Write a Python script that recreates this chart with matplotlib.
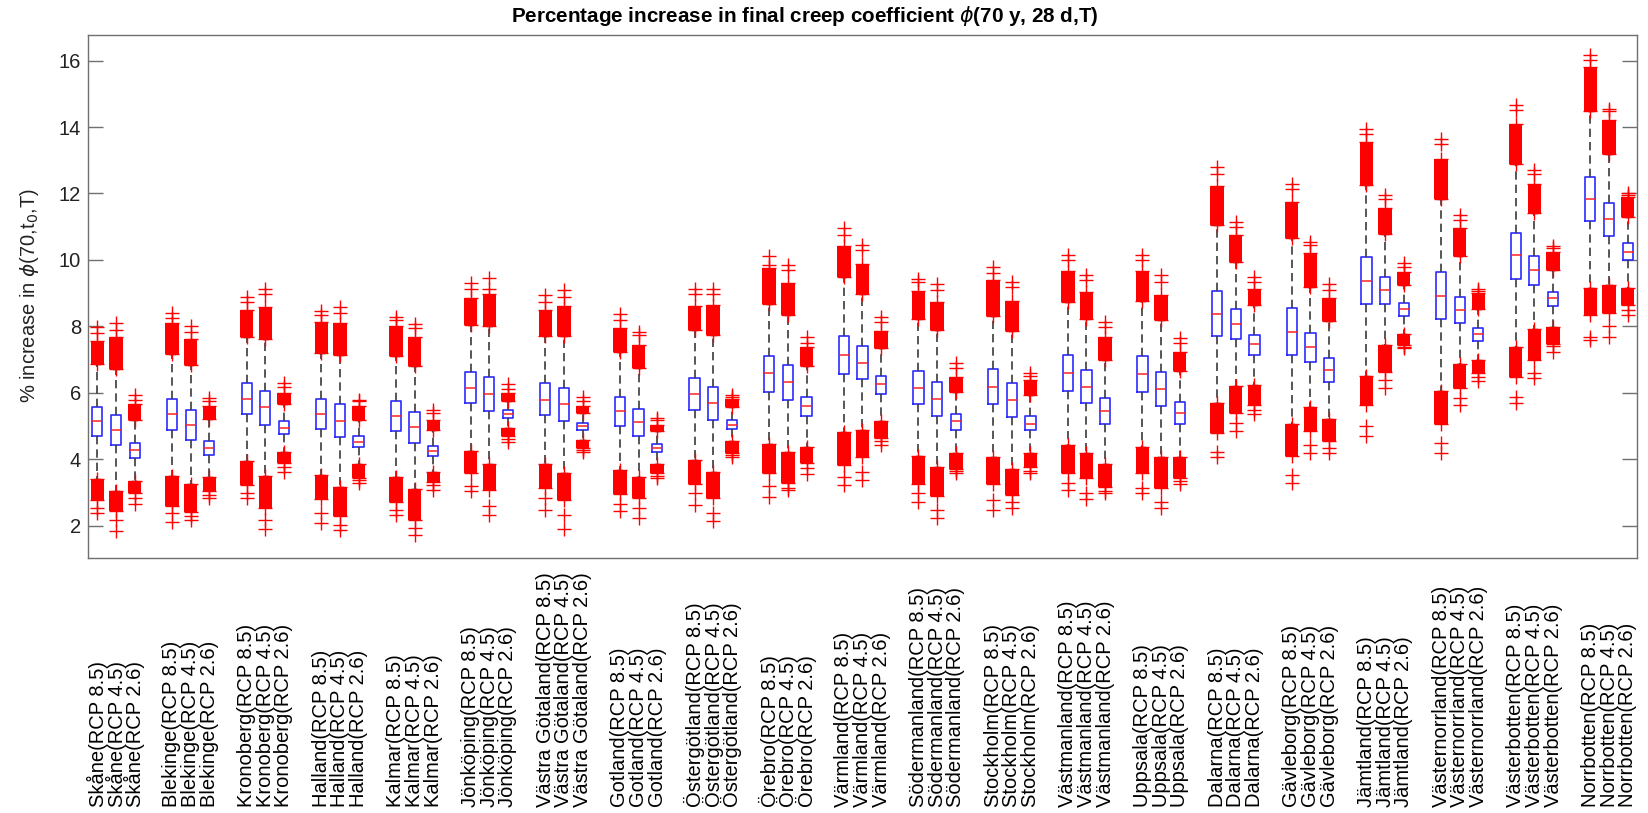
import matplotlib
matplotlib.use('Agg')
import matplotlib.pyplot as plt
import numpy as np

plt.rcParams['font.family'] = ['Liberation Sans', 'DejaVu Sans']

regions = ['Skåne', 'Blekinge', 'Kronoberg', 'Halland', 'Kalmar', 'Jönköping',
           'Västra Götaland', 'Gotland', 'Östergötland', 'Örebro', 'Värmland',
           'Södermanland', 'Stockholm', 'Västmanland', 'Uppsala', 'Dalarna',
           'Gävleborg', 'Jämtland', 'Västernorrland', 'Västerbotten', 'Norrbotten']
scenarios = ['RCP 8.5', 'RCP 4.5', 'RCP 2.6']

# per box (region x scenario): median, quartiles, whisker ends
med = [5.16, 4.89, 4.28, 5.36, 5.04, 4.35, 5.83, 5.56, 4.94, 5.37, 5.16, 4.52,
       5.29, 4.97, 4.25, 6.16, 5.96, 5.36, 5.79, 5.66, 4.99, 5.46, 5.13, 4.35,
       5.96, 5.69, 5.04, 6.59, 6.32, 5.59, 7.14, 6.91, 6.26, 6.16, 5.83, 5.14,
       6.19, 5.79, 5.07, 6.61, 6.19, 5.46, 6.57, 6.12, 5.39, 8.37, 8.06, 7.46,
       7.84, 7.39, 6.69, 9.37, 9.09, 8.51, 8.92, 8.49, 7.77, 10.15, 9.70, 8.84,
       11.83, 11.22, 10.24]
q1 = [4.71, 4.44, 4.05, 4.89, 4.59, 4.13, 5.37, 5.03, 4.77, 4.91, 4.67, 4.36,
      4.84, 4.50, 4.10, 5.68, 5.44, 5.24, 5.33, 5.14, 4.87, 5.01, 4.71, 4.22,
      5.49, 5.17, 4.91, 6.04, 5.79, 5.29, 6.57, 6.41, 5.97, 5.65, 5.31, 4.89,
      5.67, 5.27, 4.87, 6.07, 5.69, 5.06, 6.04, 5.61, 5.06, 7.71, 7.61, 7.14,
      7.14, 6.94, 6.34, 8.66, 8.67, 8.31, 8.21, 8.09, 7.56, 9.44, 9.24, 8.62,
      11.17, 10.73, 10.00]
q3 = [5.57, 5.34, 4.50, 5.81, 5.49, 4.56, 6.31, 6.07, 5.14, 5.81, 5.66, 4.69,
      5.74, 5.43, 4.40, 6.63, 6.47, 5.47, 6.29, 6.16, 5.09, 5.89, 5.51, 4.46,
      6.44, 6.19, 5.17, 7.11, 6.84, 5.89, 7.71, 7.42, 6.52, 6.67, 6.34, 5.37,
      6.71, 6.31, 5.29, 7.14, 6.69, 5.84, 7.12, 6.63, 5.71, 9.06, 8.51, 7.74,
      8.54, 7.81, 7.06, 10.10, 9.49, 8.69, 9.65, 8.89, 7.94, 10.82, 10.12, 9.04,
      12.50, 11.70, 10.50]
whis_hi = [6.87, 6.71, 5.17, 7.17, 6.84, 5.22, 7.69, 7.63, 5.67, 7.19, 7.14, 5.19,
           7.12, 6.82, 4.89, 8.04, 8.01, 5.77, 7.71, 7.71, 5.39, 7.24, 6.74, 4.86,
           7.89, 7.74, 5.57, 8.67, 8.34, 6.82, 9.48, 8.98, 7.34, 8.21, 7.89, 6.04,
           8.31, 7.87, 5.94, 8.74, 8.21, 6.99, 8.77, 8.19, 6.67, 11.05, 9.95, 8.64,
           10.65, 9.19, 8.17, 12.25, 10.77, 9.24, 11.82, 10.12, 8.51, 12.90, 11.42, 9.70,
           14.49, 13.18, 11.30]
whis_lo = [3.40, 3.06, 3.36, 3.50, 3.25, 3.48, 3.96, 3.50, 4.23, 3.52, 3.16, 3.86,
           3.46, 3.12, 3.63, 4.25, 3.86, 4.94, 3.86, 3.58, 4.57, 3.68, 3.48, 3.86,
           3.98, 3.63, 4.54, 4.46, 4.23, 4.36, 4.82, 4.89, 5.14, 4.10, 3.76, 4.18,
           4.06, 3.70, 4.18, 4.43, 4.18, 3.86, 4.36, 4.06, 4.06, 5.69, 6.21, 6.24,
           5.06, 5.57, 5.21, 6.51, 7.44, 7.77, 6.07, 6.87, 6.99, 7.37, 7.91, 7.99,
           9.17, 9.24, 9.17]
# dense outlier clusters: upper cluster top, lower cluster bottom
up_top = [7.57, 7.67, 5.67, 8.09, 7.61, 5.61, 8.49, 8.59, 6.01, 8.14, 8.09, 5.61,
          8.01, 7.69, 5.19, 8.85, 8.98, 5.99, 8.49, 8.61, 5.61, 7.94, 7.44, 5.02,
          8.61, 8.63, 5.81, 9.75, 9.31, 7.39, 10.42, 9.88, 7.87, 9.08, 8.74, 6.49,
          9.39, 8.77, 6.39, 9.68, 9.04, 7.69, 9.68, 8.94, 7.24, 12.22, 10.75, 9.14,
          11.75, 10.20, 8.84, 13.55, 11.55, 9.65, 13.05, 10.95, 9.01, 14.10, 12.30, 10.25,
          15.81, 14.20, 11.90]
low_bot = [2.78, 2.43, 3.00, 2.60, 2.40, 3.06, 3.22, 2.53, 3.88, 2.80, 2.28, 3.45,
           2.73, 2.18, 3.33, 3.58, 3.08, 4.69, 3.13, 2.78, 4.33, 2.96, 2.83, 3.58,
           3.26, 2.83, 4.20, 3.60, 3.30, 3.88, 3.83, 4.07, 4.64, 3.26, 2.90, 3.70,
           3.26, 2.93, 3.76, 3.60, 3.43, 3.16, 3.60, 3.13, 3.43, 4.79, 5.39, 5.62,
           4.10, 4.84, 4.54, 5.64, 6.64, 7.44, 5.07, 6.14, 6.59, 6.47, 6.99, 7.47,
           8.34, 8.39, 8.64]
# sparse extreme outliers
up_mid = [7.79, 7.89, 5.79, 8.24, 7.84, 5.74, 8.74, 8.99, 6.19, 8.34, 8.39, 5.74,
          8.19, 7.94, 5.39, 9.12, 9.14, 6.11, 8.74, 8.89, 5.74, 8.19, 7.74, 5.19,
          8.99, 8.99, 5.88, 9.85, 9.70, 7.51, 10.75, 10.30, 8.14, 9.35, 9.09, 6.74,
          9.60, 9.19, 6.50, 10.00, 9.39, 7.99, 10.00, 9.34, 7.49, 12.60, 11.00, 9.34,
          12.15, 10.45, 9.11, 13.80, 11.82, 9.78, 13.50, 11.20, 9.08, 14.50, 12.58, 10.35,
          16.01, 14.48, 11.96]
up_max = [7.99, 8.11, 5.94, 8.41, 8.01, 5.84, 8.89, 9.14, 6.31, 8.46, 8.57, 5.79,
          8.29, 8.07, 5.49, 9.32, 9.45, 6.26, 8.96, 9.10, 5.87, 8.37, 7.84, 5.24,
          9.14, 9.14, 5.94, 10.12, 9.85, 7.67, 10.95, 10.45, 8.29, 9.42, 9.27, 6.89,
          9.78, 9.34, 6.59, 10.15, 9.55, 8.14, 10.15, 9.55, 7.64, 12.80, 11.15, 9.49,
          12.30, 10.55, 9.27, 13.95, 11.95, 9.92, 13.65, 11.35, 9.14, 14.65, 12.72, 10.42,
          16.16, 14.55, 12.02]
low_mid = [2.53, 2.18, 2.83, 2.38, 2.30, 2.93, 2.98, 2.18, 3.78, 2.38, 2.03, 3.38,
           2.48, 1.93, 3.23, 3.20, 2.60, 4.61, 2.83, 2.33, 4.28, 2.66, 2.53, 3.50,
           2.98, 2.38, 4.14, 3.20, 3.15, 3.73, 3.48, 3.63, 4.54, 2.98, 2.48, 3.64,
           2.78, 2.73, 3.66, 3.28, 2.98, 3.06, 3.13, 2.73, 3.35, 4.23, 5.09, 5.49,
           3.53, 4.43, 4.33, 4.99, 6.39, 7.39, 4.48, 5.84, 6.49, 5.87, 6.59, 7.41,
           7.69, 8.01, 8.49]
low_min = [2.38, 1.83, 2.66, 2.10, 2.18, 2.83, 2.83, 1.90, 3.63, 2.08, 1.88, 3.28,
           2.33, 1.73, 3.08, 3.06, 2.33, 4.51, 2.48, 1.90, 4.23, 2.43, 2.23, 3.43,
           2.63, 2.13, 4.08, 2.86, 3.08, 3.56, 3.23, 3.38, 4.44, 2.73, 2.23, 3.58,
           2.46, 2.53, 3.58, 3.08, 2.80, 2.98, 2.98, 2.53, 3.26, 4.08, 4.84, 5.37,
           3.28, 4.18, 4.18, 4.69, 6.14, 7.34, 4.18, 5.64, 6.37, 5.69, 6.44, 7.24,
           7.59, 7.69, 8.34]

yticks = [2, 4, 6, 8, 10, 12, 14, 16]

W, H = 1648, 813
fig = plt.figure(figsize=(W / 100, H / 100), dpi=100)
ax_l, ax_r, ax_t, ax_b = 88, 1637, 35, 558
ax = fig.add_axes([ax_l / W, 1 - ax_b / H, (ax_r - ax_l) / W, (ax_b - ax_t) / H])

positions = [4 * g + k + 1 for g in range(len(regions)) for k in range(3)]
labels = [f'{r}({s})' for r in regions for s in scenarios]

stats = []
for i in range(len(positions)):
    stats.append(dict(med=med[i], q1=q1[i], q3=q3[i], whislo=whis_lo[i],
                      whishi=whis_hi[i], fliers=[]))

ax.bxp(stats, positions=positions, widths=0.55, showfliers=False,
       boxprops=dict(color='#2b2bff', linewidth=1.2),
       medianprops=dict(color='#ff2020', linewidth=1.1),
       whiskerprops=dict(color='#3a3a3a', linewidth=1.2, linestyle=(0, (5, 3))),
       capprops=dict(color='black', linewidth=1.0), capwidths=0.28,
       manage_ticks=False)

pos = np.array(positions)
up_b = np.array(whis_hi)
up_t = np.array(up_top)
lo_t = np.array(whis_lo)
lo_b = np.array(low_bot)
ax.bar(pos, up_t - up_b, bottom=up_b, width=0.72, color='#ff0000', zorder=3)
ax.bar(pos, lo_t - lo_b, bottom=lo_b, width=0.72, color='#ff0000', zorder=3)

for arr in (whis_hi, up_top, up_mid, up_max, whis_lo, low_bot, low_mid, low_min):
    ax.plot(pos, arr, linestyle='none', marker='+', color='#ff0000',
            markersize=10, markeredgewidth=1.0, zorder=3)

ax.set_xlim(0.5, 83.5)
ax.set_ylim(1.03, 16.77)
ax.set_yticks(yticks)
ax.set_yticklabels([str(t) for t in yticks])
ax.set_xticks(positions)
ax.set_xticklabels(labels, rotation=90, ha='center', va='bottom', fontsize=14.5)
ax.tick_params(axis='x', length=0, pad=(807 - ax_b) * 0.72)
ax.tick_params(axis='y', direction='in', length=11, width=1, color='#707070',
               right=True, labelsize=14.5, pad=5, labelcolor='#222222')
for sp in ax.spines.values():
    sp.set_color('#707070')
    sp.set_linewidth(1.0)

fig.text(805 / W, 1 - 16 / H,
         r'Percentage increase in final creep coefficient $\phi$(70 y, 28 d,T)',
         ha='center', va='center', fontsize=14.9, fontweight='bold')
fig.text(30 / W, 1 - 296 / H, r'% increase in $\phi$(70,t$_0$,T)',
         rotation=90, ha='center', va='center', fontsize=14.5, color='#222222')

fig.savefig('out.png', dpi=100)
